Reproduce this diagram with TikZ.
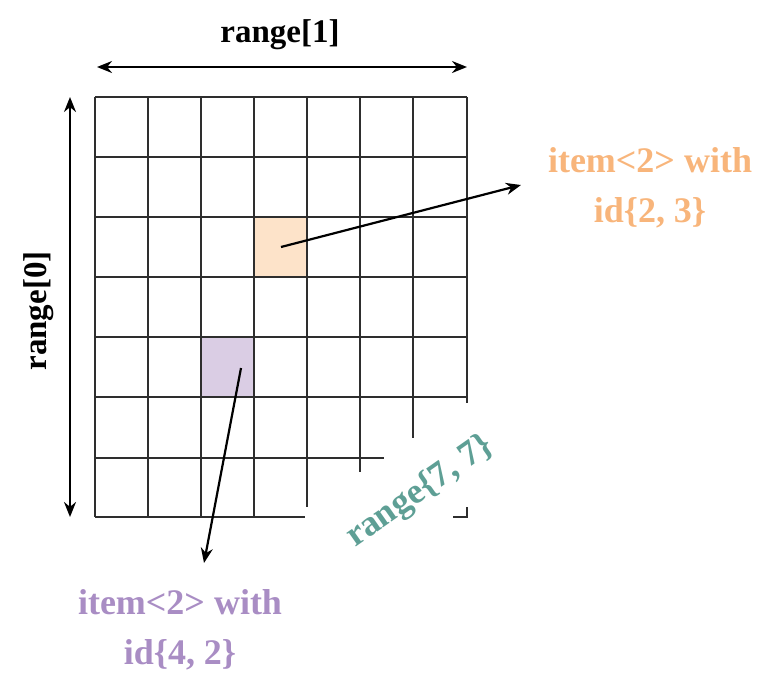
\documentclass[tikz,border=0pt]{standalone}
\usepackage{fontspec}
\setmainfont{Liberation Serif}
\usetikzlibrary{arrows.meta}
\usepackage{xcolor}
\definecolor{cellpeach}{HTML}{FDE3C9}
\definecolor{celllilac}{HTML}{DACDE4}
\definecolor{txtorange}{HTML}{F8B57B}
\definecolor{txtlilac}{HTML}{A98DC4}
\definecolor{txtteal}{HTML}{5E9F95}
\definecolor{gridgray}{HTML}{2E2E2E}

\begin{document}
\begin{tikzpicture}[x=1pt,y=-1pt,
  gridline/.style={draw=gridgray,line width=1.4pt},
  ptr/.style={line width=2.2pt,-{Stealth[length=15pt,width=12pt]}},
  span/.style={line width=2.2pt,{Stealth[length=15pt,width=12pt]}-{Stealth[length=15pt,width=12pt]}},
  lbl/.style={font=\bfseries\fontsize{33}{48}\selectfont,align=center,inner sep=0pt},
  itemlbl/.style={lbl,font=\bfseries\fontsize{36}{50}\selectfont}]
  \useasboundingbox (0,0) rectangle (769,678);
  % highlighted cells
  \fill[cellpeach] (254,217) rectangle (307,277);
  \fill[celllilac] (201,337) rectangle (254,397);
  % grid, cut away at the lower right
  \foreach \y in {97,157,...,397}{
    \draw[gridline] (95,\y) -- (467,\y);
  }
  \foreach \x/\yb in {95/517,148/517,201/517,254/517,307/507,360/472,413/438,467/403}{
    \draw[gridline] (\x,97) -- (\x,\yb);
  }
  \draw[gridline] (95,458) -- (384,458);
  \draw[gridline] (95,517) -- (305,517);
  \draw[gridline] (453,517) -- (467,517) -- (467,507);
  % extents
  \coordinate (r1a) at (97,67);
  \coordinate (r1b) at (467,67);
  \coordinate (r0a) at (70,97);
  \coordinate (r0b) at (70,517);
  \draw[span] (r1a) -- (r1b);
  \draw[span] (r0a) -- (r0b);
  \node[lbl] (range1) at (280,35) {range[1]};
  \node[lbl,rotate=90] (range0) at (39,311) {range[0]};
  \node[itemlbl,text=txtteal,rotate=35] (range77) at (420,492) {range\{7, 7\}};
  % items
  \coordinate (c23) at (281,247);
  \coordinate (c42) at (241,368);
  \node[itemlbl,text=txtorange] (item23) at (650,188) {item<2> with\\id\{2, 3\}};
  \node[itemlbl,text=txtlilac] (item42) at (180,630) {item<2> with\\id\{4, 2\}};
  \coordinate (t23) at (521,185);
  \coordinate (t42) at (204,563);
  \draw[ptr] (c23) -- (t23);
  \draw[ptr] (c42) -- (t42);
\end{tikzpicture}
\end{document}
